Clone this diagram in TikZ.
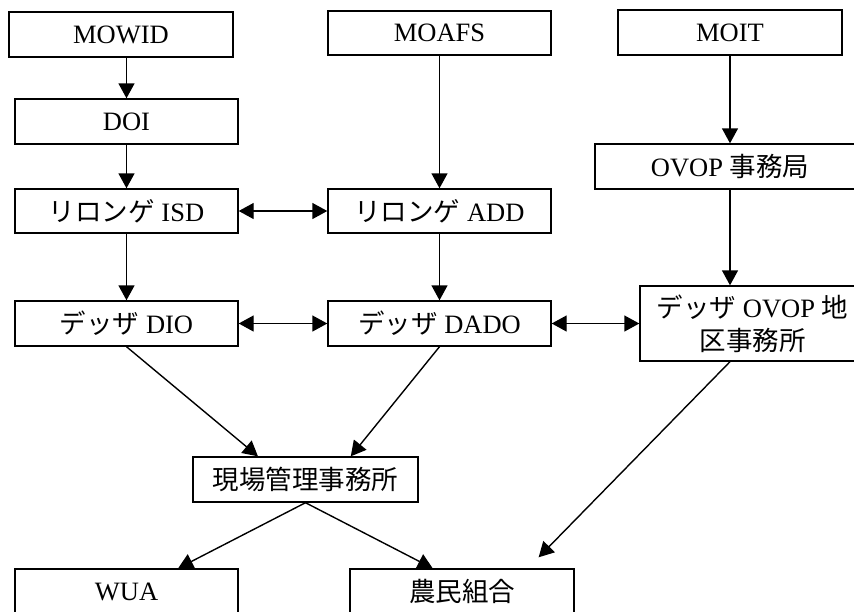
\documentclass[tikz,border=0pt]{standalone}
\usepackage{fontspec}
\setmainfont{Liberation Serif}
\newfontfamily\jp{Noto Sans CJK JP}
\usetikzlibrary{arrows.meta,calc}
\tikzset{
  box/.style={draw=black, line width=1.4pt, inner sep=0pt, align=center,
    font=\fontsize{26.5}{33}\selectfont, minimum height=45pt},
  arr/.style={line width=1.4pt, -{Triangle[length=15pt,width=16pt]}},
  darr/.style={line width=1.4pt, {Triangle[length=15pt,width=16pt]}-{Triangle[length=15pt,width=16pt]}},
}
\begin{document}
\begin{tikzpicture}[x=1pt,y=-1pt]
\useasboundingbox (0,0) rectangle (854,611);
\clip (0,0) rectangle (854,611);
\node[box, minimum width=224pt] (mowid) at (121,34.5) {MOWID};
\node[box, minimum width=223pt, minimum height=44pt] (moafs) at (439.5,33) {MOAFS};
\node[box, minimum width=224pt] (moit) at (730,32.5) {MOIT};
\node[box, minimum width=223pt] (doi) at (126.5,121.5) {DOI};
\node[box, minimum width=270pt] (ovop) at (730,166.5) {OVOP {\jp 事務局}};
\node[box, minimum width=223pt, minimum height=44pt] (isd) at (126.5,211) {{\jp リロンゲ} ISD};
\node[box, minimum width=223pt, minimum height=44pt] (add) at (439.5,211) {{\jp リロンゲ} ADD};
\node[box, minimum width=223pt] (dio) at (126.5,323.5) {{\jp デッザ} DIO};
\node[box, minimum width=223pt] (dado) at (439.5,323.5) {{\jp デッザ} DADO};
\node[box, minimum width=225pt, minimum height=75pt] (dist) at (752.5,323.5) {{\jp デッザ} OVOP {\jp 地}\\{\jp 区事務所}};
\node[box, minimum width=225pt] (genba) at (305.5,479.5) {{\jp 現場管理事務所}};
\node[box, minimum width=223pt] (wua) at (126.5,591.5) {WUA};
\node[box, minimum width=224pt] (nomin) at (462,591.5) {{\jp 農民組合}};

\draw[arr] (mowid.south -| doi.north) -- (doi.north);
\draw[arr] (doi.south) -- (isd.north);
\draw[arr] (isd.south) -- (dio.north);
\draw[arr] (moafs.south) -- (add.north);
\draw[arr] (add.south) -- (dado.north);
\draw[arr] (moit.south) -- (moit.south |- ovop.north);
\draw[arr] (ovop.south) -- (ovop.south |- dist.north);
\draw[darr] (isd.east) -- (add.west);
\draw[darr] (dio.east) -- (dado.west);
\draw[darr] (dado.east) -- (dist.west);
\draw[arr] (dio.south) -- ($(genba.north west)!0.29!(genba.north east)$);
\draw[arr] (dado.south) -- ($(genba.north west)!0.70!(genba.north east)$);
\draw[arr] (genba.south) -- ($(wua.north west)!0.73!(wua.north east)$);
\draw[arr] (genba.south) -- ($(nomin.north west)!0.37!(nomin.north east)$);
\coordinate (ntip) at ($(nomin.north west)!0.84!(nomin.north east)+(0,-11)$);
\draw[arr] (ovop.south |- dist.south) -- (ntip);
\end{tikzpicture}
\end{document}
